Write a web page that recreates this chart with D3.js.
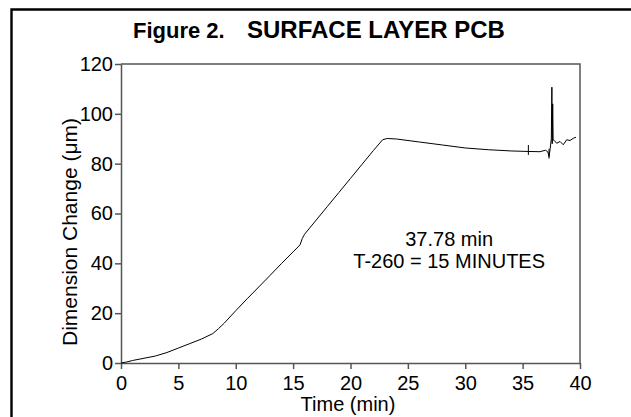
<!DOCTYPE html>
<html>
<head>
<meta charset="utf-8">
<script src="https://cdnjs.cloudflare.com/ajax/libs/d3/7.8.5/d3.min.js"></script>
<style>
  body { margin: 0; background: #fff; }
  text { font-family: "Liberation Sans", Arial, sans-serif; fill: #000; }
</style>
</head>
<body>
<div id="chart"></div>
<script>
// seting boundaries
var svgWidth = 631;
var svgHeight = 417;

var margin = { top: 64, right: 51, bottom: 54, left: 121 };
var width = svgWidth - margin.left - margin.right;
var height = svgHeight - margin.top - margin.bottom;

// Data
var timeMin = [0, 0.5, 1, 2, 3, 4, 5, 6, 7, 8, 8.5, 9, 10, 11, 12, 13, 14, 15, 15.6, 15.8, 16,
  17, 18, 19, 20, 21, 22, 22.8, 23.2, 24, 26, 28, 30, 32, 34, 35.5, 36.5, 37.0, 37.2, 37.3,
  37.4, 37.5, 37.55, 37.58, 37.62, 37.66, 37.76, 37.97, 38.26, 38.54, 38.84, 39.13, 39.42, 39.65];
var dimChange = [0, 0.4, 1.0, 1.9, 2.8, 4.2, 6.0, 7.8, 9.6, 11.8, 13.8, 16, 21, 25.8, 30.5, 35.2, 40, 44.6, 47.4, 50, 51.7,
  57.3, 62.9, 68.5, 74.1, 79.7, 85.3, 89.6, 90.1, 89.9, 88.7, 87.5, 86.3, 85.6, 85.1, 84.9, 84.8, 85.4, 84.7, 82.8,
  86, 90, 110.7, 88, 104, 89.5, 89.3, 88.2, 88.9, 87.6, 89.6, 89.3, 90.2, 90.6];
// cursor marks on the trace
var markTimes = [35.5, 37.3];
var markLow = [83.5, 82];
var markHigh = [87.5, 86];

var xTicks = [0, 5, 10, 15, 20, 25, 30, 35, 40];
var yTicks = [0, 20, 40, 60, 80, 100, 120];

var svg = d3.select("#chart")
  .append("svg")
  .attr("width", svgWidth)
  .attr("height", svgHeight);

// outer frame
svg.append("path")
  .attr("d", `M11.5,${svgHeight + 5} L11.5,9.5 L${svgWidth + 5},9.5`)
  .attr("fill", "none")
  .attr("stroke", "#000")
  .attr("stroke-width", 2.4);

// title
svg.append("text")
  .attr("x", 133)
  .attr("y", 38)
  .attr("font-weight", "bold")
  .attr("font-size", "22px")
  .text("Figure 2.");

svg.append("text")
  .attr("x", 247)
  .attr("y", 38)
  .attr("font-weight", "bold")
  .attr("font-size", "24px")
  .text("SURFACE LAYER PCB");

var chartGroup = svg.append("g")
  .attr("transform", `translate(${margin.left}, ${margin.top})`);

var xScale = d3.scaleLinear().domain([0, 40]).range([0, width]);
var yScale = d3.scaleLinear().domain([0, 120]).range([height, 0]);

var bottomAxis = d3.axisBottom(xScale).tickValues(xTicks).tickSize(6).tickSizeOuter(0);
var leftAxis = d3.axisLeft(yScale).tickValues(yTicks).tickSize(6).tickSizeOuter(0);

// box top and right
chartGroup.append("path")
  .attr("d", `M0,0 H${width} V${height}`)
  .attr("fill", "none")
  .attr("stroke", "#555")
  .attr("stroke-width", 1.5);

var xAxis = chartGroup.append("g")
  .attr("transform", `translate(0, ${height})`)
  .call(bottomAxis);

var yAxis = chartGroup.append("g")
  .call(leftAxis);

[xAxis, yAxis].forEach(function(ax) {
  ax.select(".domain").attr("stroke", "#555").attr("stroke-width", 1.5);
  ax.selectAll(".tick line").attr("stroke", "#555").attr("stroke-width", 1.5);
  ax.selectAll(".tick text")
    .attr("font-size", "20px")
    .attr("font-family", "Liberation Sans, Arial, sans-serif")
    .attr("fill", "#000");
});
xAxis.selectAll(".tick text").attr("dy", "0.9em");
yAxis.selectAll(".tick text").attr("x", -8);

// trace
var points = timeMin.map((t, i) => [t, dimChange[i]]);
var line = d3.line()
  .x(d => xScale(d[0]))
  .y(d => yScale(d[1]));

chartGroup.append("path")
  .datum(points)
  .attr("d", line)
  .attr("fill", "none")
  .attr("stroke", "#000")
  .attr("stroke-width", 1);

chartGroup.selectAll(".mark")
  .data(markTimes)
  .enter()
  .append("line")
  .attr("class", "mark")
  .attr("x1", d => xScale(d))
  .attr("x2", d => xScale(d))
  .attr("y1", (d, i) => yScale(markLow[i]))
  .attr("y2", (d, i) => yScale(markHigh[i]))
  .attr("stroke", "#000")
  .attr("stroke-width", 1);

// annotation
chartGroup.append("text")
  .attr("x", xScale(28.6))
  .attr("y", 182)
  .attr("text-anchor", "middle")
  .attr("font-size", "20px")
  .text("37.78 min");

chartGroup.append("text")
  .attr("x", xScale(28.6))
  .attr("y", 204)
  .attr("text-anchor", "middle")
  .attr("font-size", "20px")
  .text("T-260 = 15 MINUTES");

// axis labels
svg.append("text")
  .attr("x", 348)
  .attr("y", 411)
  .attr("text-anchor", "middle")
  .attr("font-size", "20px")
  .text("Time (min)");

svg.append("text")
  .attr("transform", "translate(77, 232) rotate(-90)")
  .attr("text-anchor", "middle")
  .attr("font-size", "21px")
  .text("Dimension Change (\u03bcm)");
</script>
</body>
</html>
